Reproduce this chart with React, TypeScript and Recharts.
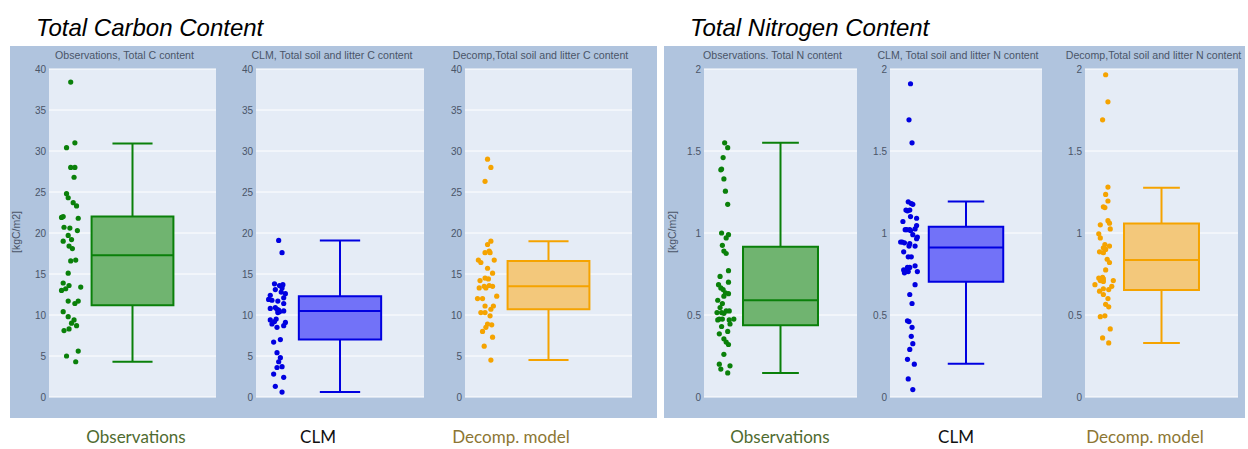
import { ComposedChart, Scatter, XAxis, YAxis, CartesianGrid, ReferenceArea, ReferenceLine } from "recharts";

// tick values
const carbonTicks = [0, 5, 10, 15, 20, 25, 30, 35, 40];
const nitrogenTicks = [0, 0.5, 1, 1.5, 2];

// box stats: [lower whisker, q1, median, q3, upper whisker]
const obsCBox = [4.3, 11.2, 17.3, 22.0, 30.9];
const clmCBox = [0.6, 7.0, 10.5, 12.3, 19.1];
const decCBox = [4.5, 10.7, 13.5, 16.6, 19.0];
const obsNBox = [0.147, 0.437, 0.59, 0.916, 1.55];
const clmNBox = [0.203, 0.702, 0.911, 1.038, 1.192];
const decNBox = [0.33, 0.653, 0.836, 1.058, 1.276];

// jittered points: [x offset, value]
const obsCPoints = [
  [-0.74, 38.4], [-0.79, 30.4], [-0.69, 31.0], [-0.74, 28.0], [-0.69, 28.0], [-0.70, 26.8],
  [-0.79, 24.8], [-0.77, 24.3], [-0.71, 23.7], [-0.67, 23.3], [-0.85, 21.9], [-0.83, 22.0],
  [-0.65, 21.8], [-0.82, 20.7], [-0.75, 20.6], [-0.66, 20.3], [-0.77, 19.7], [-0.73, 19.2],
  [-0.83, 19.0], [-0.76, 18.4], [-0.72, 18.1], [-0.74, 16.6], [-0.68, 16.7], [-0.77, 15.1],
  [-0.83, 13.9], [-0.76, 13.6], [-0.62, 13.4], [-0.80, 13.2], [-0.85, 13.0], [-0.77, 11.7],
  [-0.65, 11.7], [-0.69, 11.4], [-0.83, 10.4], [-0.77, 9.8], [-0.70, 9.4], [-0.73, 9.0],
  [-0.67, 8.7], [-0.82, 8.1], [-0.76, 8.3], [-0.79, 5.0], [-0.65, 5.6], [-0.68, 4.3],
];
const clmCPoints = [
  [-0.73, 19.1], [-0.69, 17.6], [-0.78, 13.8], [-0.72, 13.6], [-0.68, 13.7], [-0.69, 13.3],
  [-0.77, 13.1], [-0.70, 12.8], [-0.65, 12.6], [-0.83, 12.4], [-0.67, 12.1], [-0.85, 11.9],
  [-0.81, 11.8], [-0.74, 11.7], [-0.67, 11.4], [-0.83, 10.8], [-0.77, 10.9], [-0.75, 10.7],
  [-0.73, 10.6], [-0.67, 10.5], [-0.74, 10.3], [-0.72, 10.4], [-0.83, 9.4], [-0.76, 9.5],
  [-0.78, 9.2], [-0.65, 9.1], [-0.81, 8.9], [-0.67, 8.7], [-0.75, 8.5], [-0.71, 7.0],
  [-0.79, 6.7], [-0.75, 5.4], [-0.71, 4.8], [-0.73, 4.3], [-0.75, 3.6], [-0.69, 3.7],
  [-0.79, 2.8], [-0.67, 2.4], [-0.77, 1.3], [-0.69, 0.6],
];
const decCPoints = [
  [-0.73, 29.0], [-0.69, 28.0], [-0.76, 26.3], [-0.69, 19.0], [-0.73, 18.6], [-0.71, 17.8],
  [-0.76, 17.6], [-0.70, 17.6], [-0.65, 16.7], [-0.84, 16.7], [-0.81, 16.4], [-0.73, 15.7],
  [-0.67, 15.1], [-0.82, 14.2], [-0.76, 14.5], [-0.72, 14.4], [-0.71, 13.6], [-0.77, 13.5],
  [-0.75, 13.3], [-0.67, 13.5], [-0.83, 13.3], [-0.62, 12.3], [-0.85, 12.0], [-0.79, 12.0],
  [-0.76, 11.1], [-0.66, 11.1], [-0.69, 10.7], [-0.81, 10.3], [-0.76, 10.3], [-0.70, 9.9],
  [-0.73, 8.9], [-0.68, 8.8], [-0.75, 8.5], [-0.79, 8.0], [-0.67, 7.3], [-0.77, 6.2],
  [-0.69, 4.5],
];
const obsNPoints = [
  [-0.73, 1.55], [-0.69, 1.52], [-0.75, 1.46], [-0.77, 1.39], [-0.78, 1.385], [-0.74, 1.33],
  [-0.72, 1.255], [-0.69, 1.175], [-0.77, 1.0], [-0.68, 0.99], [-0.71, 0.97], [-0.76, 0.925],
  [-0.74, 0.89], [-0.71, 0.875], [-0.68, 0.77], [-0.79, 0.735], [-0.68, 0.70], [-0.81, 0.685],
  [-0.78, 0.665], [-0.75, 0.655], [-0.72, 0.635], [-0.68, 0.63], [-0.74, 0.615], [-0.82, 0.59],
  [-0.76, 0.57], [-0.79, 0.545], [-0.71, 0.525], [-0.67, 0.525], [-0.83, 0.515], [-0.77, 0.515],
  [-0.74, 0.51], [-0.80, 0.475], [-0.82, 0.47], [-0.76, 0.475], [-0.67, 0.47], [-0.61, 0.475],
  [-0.77, 0.43], [-0.66, 0.445], [-0.69, 0.40], [-0.80, 0.385], [-0.74, 0.355], [-0.71, 0.335],
  [-0.68, 0.32], [-0.74, 0.26], [-0.80, 0.20], [-0.66, 0.19], [-0.78, 0.17], [-0.69, 0.147],
];
const clmNPoints = [
  [-0.73, 1.91], [-0.75, 1.69], [-0.71, 1.55], [-0.76, 1.19], [-0.72, 1.18], [-0.70, 1.175],
  [-0.79, 1.14], [-0.77, 1.135], [-0.74, 1.14], [-0.73, 1.10], [-0.65, 1.09], [-0.83, 1.07],
  [-0.65, 1.045], [-0.80, 1.02], [-0.78, 1.02], [-0.74, 1.02], [-0.73, 1.015], [-0.67, 1.025],
  [-0.70, 0.99], [-0.64, 0.975], [-0.65, 0.965], [-0.86, 0.945], [-0.84, 0.945], [-0.81, 0.94],
  [-0.74, 0.935], [-0.75, 0.92], [-0.67, 0.92], [-0.82, 0.885], [-0.76, 0.855], [-0.72, 0.855],
  [-0.67, 0.80], [-0.77, 0.79], [-0.74, 0.79], [-0.82, 0.775], [-0.80, 0.765], [-0.76, 0.765],
  [-0.81, 0.757], [-0.64, 0.765], [-0.67, 0.685], [-0.74, 0.625], [-0.71, 0.57], [-0.77, 0.465],
  [-0.75, 0.46], [-0.71, 0.425], [-0.72, 0.37], [-0.70, 0.325], [-0.74, 0.29], [-0.77, 0.23],
  [-0.68, 0.20], [-0.76, 0.11], [-0.70, 0.045],
];
const decNPoints = [
  [-0.73, 1.965], [-0.70, 1.80], [-0.77, 1.69], [-0.70, 1.28], [-0.73, 1.235], [-0.70, 1.195],
  [-0.76, 1.16], [-0.74, 1.155], [-0.70, 1.075], [-0.68, 1.06], [-0.80, 1.05], [-0.67, 1.025],
  [-0.82, 0.995], [-0.80, 0.97], [-0.74, 0.93], [-0.76, 0.91], [-0.68, 0.92], [-0.73, 0.90],
  [-0.81, 0.885], [-0.76, 0.88], [-0.71, 0.84], [-0.68, 0.82], [-0.73, 0.775], [-0.82, 0.725],
  [-0.77, 0.73], [-0.76, 0.72], [-0.80, 0.71], [-0.63, 0.71], [-0.76, 0.705], [-0.87, 0.685],
  [-0.65, 0.675], [-0.81, 0.645], [-0.76, 0.66], [-0.69, 0.655], [-0.76, 0.625], [-0.70, 0.60],
  [-0.73, 0.565], [-0.69, 0.55], [-0.80, 0.49], [-0.74, 0.495], [-0.67, 0.415], [-0.77, 0.36],
  [-0.69, 0.33],
];

const subTitles = [
  "Observations, Total C content",
  "CLM, Total soil and litter C content",
  "Decomp,Total soil and litter C content",
  "Observations. Total N content",
  "CLM, Total soil and litter N content",
  "Decomp,Total soil and litter N content",
];

const PLOT_TOP = 69;
const PLOT_H = 328;
const PAD = 8;
const TEXT = "#4a5568";

const GREEN = { line: "#0a800a", fill: "#70b470" };
const BLUE = { line: "#0000e0", fill: "#7272f8" };
const ORANGE = { line: "#f5a300", fill: "#f3c87b" };

const panels = [
  { left: 49, width: 167, axisW: 30, title: subTitles[0], points: obsCPoints, box: obsCBox, col: GREEN, ticks: carbonTicks },
  { left: 256, width: 168, axisW: 30, title: subTitles[1], points: clmCPoints, box: clmCBox, col: BLUE, ticks: carbonTicks },
  { left: 465, width: 167, axisW: 30, title: subTitles[2], points: decCPoints, box: decCBox, col: ORANGE, ticks: carbonTicks },
  { left: 704, width: 153, axisW: 30, title: subTitles[3], points: obsNPoints, box: obsNBox, col: GREEN, ticks: nitrogenTicks },
  { left: 890, width: 152, axisW: 30, title: subTitles[4], points: clmNPoints, box: clmNBox, col: BLUE, ticks: nitrogenTicks },
  { left: 1085, width: 153, axisW: 30, title: subTitles[5], points: decNPoints, box: decNBox, col: ORANGE, ticks: nitrogenTicks },
];

function BoxPanel({ p }: { p: any }) {
  const w = p.axisW + p.width;
  const h = PLOT_H + 2 * PAD;
  const data = p.points.map(([x, y]: number[]) => ({ x, y }));
  const [lo, q1, med, q3, hi] = p.box;
  const top = p.ticks[p.ticks.length - 1];
  const bw = 0.49;
  const cw = 0.24;
  return (
    <>
      <div
        style={{
          position: "absolute",
          left: p.left - 8 - 100,
          width: p.width + 200,
          top: 49,
          textAlign: "center",
          fontFamily: "Liberation Sans, Arial, sans-serif",
          fontSize: 10.6,
          color: TEXT,
          whiteSpace: "nowrap",
        }}
      >
        {p.title}
      </div>
      <div style={{ position: "absolute", left: p.left - p.axisW, top: PLOT_TOP - PAD, width: w, height: h }}>
        <ComposedChart width={w} height={h} margin={{ top: PAD, bottom: PAD, left: 0, right: 0 }}>
          <CartesianGrid vertical={false} stroke="#ffffff" fill="#e5ecf6" fillOpacity={1} />
          <XAxis type="number" dataKey="x" domain={[-1, 1]} hide allowDataOverflow />
          <YAxis
            type="number"
            dataKey="y"
            domain={[0, top]}
            ticks={p.ticks}
            width={p.axisW}
            tickLine={false}
            axisLine={false}
            tickSize={0}
            tickMargin={3}
            interval={0}
            allowDataOverflow
            tick={{ fontSize: 10, fill: TEXT, fontFamily: "Liberation Sans, Arial, sans-serif" }}
          />
          <ReferenceArea x1={-bw} x2={bw} y1={q1} y2={q3} fill={p.col.fill} fillOpacity={1} stroke={p.col.line} strokeWidth={2} />
          <ReferenceLine segment={[{ x: -bw, y: med }, { x: bw, y: med }]} stroke={p.col.line} strokeWidth={2} />
          <ReferenceLine segment={[{ x: 0, y: lo }, { x: 0, y: q1 }]} stroke={p.col.line} strokeWidth={2} />
          <ReferenceLine segment={[{ x: 0, y: q3 }, { x: 0, y: hi }]} stroke={p.col.line} strokeWidth={2} />
          <ReferenceLine segment={[{ x: -cw, y: lo }, { x: cw, y: lo }]} stroke={p.col.line} strokeWidth={2} />
          <ReferenceLine segment={[{ x: -cw, y: hi }, { x: cw, y: hi }]} stroke={p.col.line} strokeWidth={2} />
          <Scatter
            data={data}
            isAnimationActive={false}
            fill={p.col.line}
            shape={(s: any) => <circle cx={s.cx} cy={s.cy} r={2.6} fill={p.col.line} />}
          />
        </ComposedChart>
      </div>
    </>
  );
}

const groupLabels = [
  { text: "Observations", x: 136, color: "#4f6b30" },
  { text: "CLM", x: 318, color: "#111111" },
  { text: "Decomp. model", x: 511, color: "#8c7634" },
  { text: "Observations", x: 780, color: "#4f6b30" },
  { text: "CLM", x: 956, color: "#111111" },
  { text: "Decomp. model", x: 1145, color: "#8c7634" },
];

export default function App() {
  return (
    <div style={{ position: "absolute", left: 0, top: 0, width: 1248, height: 449, background: "#fff", overflow: "hidden" }}>
      <div style={{ position: "absolute", left: 10, top: 46, width: 647, height: 372, background: "#b0c4de" }} />
      <div style={{ position: "absolute", left: 664, top: 46, width: 581, height: 372, background: "#b0c4de" }} />

      <div style={{ position: "absolute", left: 36, top: 14, fontFamily: "Liberation Sans, Arial, sans-serif", fontStyle: "italic", fontSize: 24, color: "#000" }}>
        Total Carbon Content
      </div>
      <div style={{ position: "absolute", left: 690, top: 14, fontFamily: "Liberation Sans, Arial, sans-serif", fontStyle: "italic", fontSize: 24, color: "#000" }}>
        Total Nitrogen Content
      </div>

      {[16, 672].map((x) => (
        <div
          key={x}
          style={{
            position: "absolute",
            left: x - 40,
            top: 226,
            width: 80,
            textAlign: "center",
            transform: "rotate(-90deg)",
            fontFamily: "Liberation Sans, Arial, sans-serif",
            fontSize: 10.5,
            color: TEXT,
          }}
        >
          [kgC/m2]
        </div>
      ))}

      {panels.map((p, i) => (
        <BoxPanel key={i} p={p} />
      ))}

      {groupLabels.map((g, i) => (
        <div
          key={i}
          style={{
            position: "absolute",
            left: g.x - 100,
            width: 200,
            top: 426,
            textAlign: "center",
            fontFamily: "Lato, 'Open Sans', sans-serif",
            fontSize: 17,
            color: g.color,
          }}
        >
          {g.text}
        </div>
      ))}
    </div>
  );
}
